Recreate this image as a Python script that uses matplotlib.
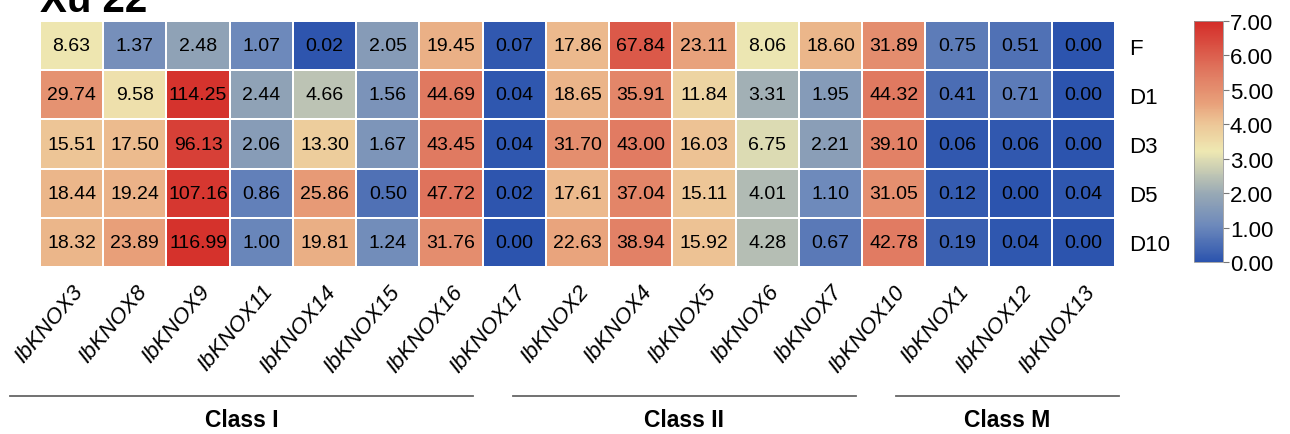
import numpy as np
import matplotlib
matplotlib.use("Agg")
import matplotlib.pyplot as plt
from matplotlib.colors import LinearSegmentedColormap
from matplotlib.lines import Line2D
from matplotlib.transforms import blended_transform_factory, ScaledTranslation

plt.rcParams["font.family"] = ["Liberation Sans", "DejaVu Sans"]

# ---- expression data (FPKM) ----
genes = ["IbKNOX3", "IbKNOX8", "IbKNOX9", "IbKNOX11", "IbKNOX14", "IbKNOX15",
         "IbKNOX16", "IbKNOX17", "IbKNOX2", "IbKNOX4", "IbKNOX5", "IbKNOX6",
         "IbKNOX7", "IbKNOX10", "IbKNOX1", "IbKNOX12", "IbKNOX13"]
stages = ["F", "D1", "D3", "D5", "D10"]

F_vals   = [8.63, 1.37, 2.48, 1.07, 0.02, 2.05, 19.45, 0.07, 17.86, 67.84, 23.11, 8.06, 18.60, 31.89, 0.75, 0.51, 0.00]
D1_vals  = [29.74, 9.58, 114.25, 2.44, 4.66, 1.56, 44.69, 0.04, 18.65, 35.91, 11.84, 3.31, 1.95, 44.32, 0.41, 0.71, 0.00]
D3_vals  = [15.51, 17.50, 96.13, 2.06, 13.30, 1.67, 43.45, 0.04, 31.70, 43.00, 16.03, 6.75, 2.21, 39.10, 0.06, 0.06, 0.00]
D5_vals  = [18.44, 19.24, 107.16, 0.86, 25.86, 0.50, 47.72, 0.02, 17.61, 37.04, 15.11, 4.01, 1.10, 31.05, 0.12, 0.00, 0.04]
D10_vals = [18.32, 23.89, 116.99, 1.00, 19.81, 1.24, 31.76, 0.00, 22.63, 38.94, 15.92, 4.28, 0.67, 42.78, 0.19, 0.04, 0.00]

class_names = ["Class I", "Class II", "Class M"]
class_sizes = [8, 6, 3]

cbar_ticks = [0, 1, 2, 3, 4, 5, 6, 7]

vals = np.array([F_vals, D1_vals, D3_vals, D5_vals, D10_vals])
scaled = np.log2(vals + 1)

cmap = LinearSegmentedColormap.from_list("expr", [
    (0.00, "#2C54AE"),
    (0.15, "#6D89BB"),
    (0.28, "#97A8B5"),
    (0.46, "#EEE8B2"),
    (0.58, "#EDC495"),
    (0.66, "#E8A07A"),
    (0.79, "#E07860"),
    (1.00, "#D42C28"),
])

fig = plt.figure(figsize=(12.9, 4.35), dpi=100)
W, H = 1290, 435
ax = fig.add_axes([40 / W, 1 - 268 / H, 1075 / W, 246 / H])

mesh = ax.pcolormesh(scaled, cmap=cmap, vmin=0, vmax=7,
                     edgecolor="white", linewidth=1.2)
ax.set_xlim(0, len(genes))
ax.set_ylim(len(stages), 0)

for i in range(len(stages)):
    for j in range(len(genes)):
        ax.text(j + 0.5, i + 0.5, f"{vals[i, j]:.2f}", ha="center", va="center",
                fontsize=14, color="black")

ax.set_xticks(np.arange(len(genes)) + 0.5)
ax.set_xticklabels(genes, rotation=50, ha="right", va="top",
                   rotation_mode="anchor", fontsize=16, style="italic")
shift = ScaledTranslation(12 / 100, 0, fig.dpi_scale_trans)
for lbl in ax.get_xticklabels():
    lbl.set_transform(lbl.get_transform() + shift)
ax.set_yticks(np.arange(len(stages)) + 0.5)
ax.set_yticklabels(stages, fontsize=16)
ax.yaxis.tick_right()
ax.tick_params(axis="both", length=0)
ax.tick_params(axis="x", pad=10)
ax.tick_params(axis="y", pad=10)
for s in ax.spines.values():
    s.set_visible(False)

# colour bar
cax = fig.add_axes([1194 / W, 1 - 263 / H, 29 / W, 241 / H])
cb = fig.colorbar(mesh, cax=cax, ticks=cbar_ticks)
cb.ax.set_yticklabels([f"{t:.2f}" for t in cbar_ticks], fontsize=16)
cb.ax.tick_params(length=4, width=0.8, color="#777777", pad=1)
cb.outline.set_edgecolor("#999999")
cb.outline.set_linewidth(0.6)

# class brackets under the gene labels
trans = blended_transform_factory(ax.transData, fig.transFigure)
line_ext = [(-0.47, -1.15), (-0.52, -1.1), (-0.47, 0.06)]
start = 0
for name, size, (lo, hi) in zip(class_names, class_sizes, line_ext):
    x0 = start + lo
    x1 = start + size + hi
    fig.add_artist(Line2D([x0, x1], [1 - 397 / H] * 2, transform=trans,
                          color="#666666", linewidth=1.3))
    fig.text((x0 + x1) / 2, 1 - 421 / H, name, transform=trans,
             ha="center", va="center", fontsize=16.5, fontweight="bold")
    start += size

fig.text(40 / W, 1 - 12 / H, "Xu 22", ha="left", va="baseline",
         fontsize=29, fontweight="bold")

fig.savefig("out.png", dpi=100)
